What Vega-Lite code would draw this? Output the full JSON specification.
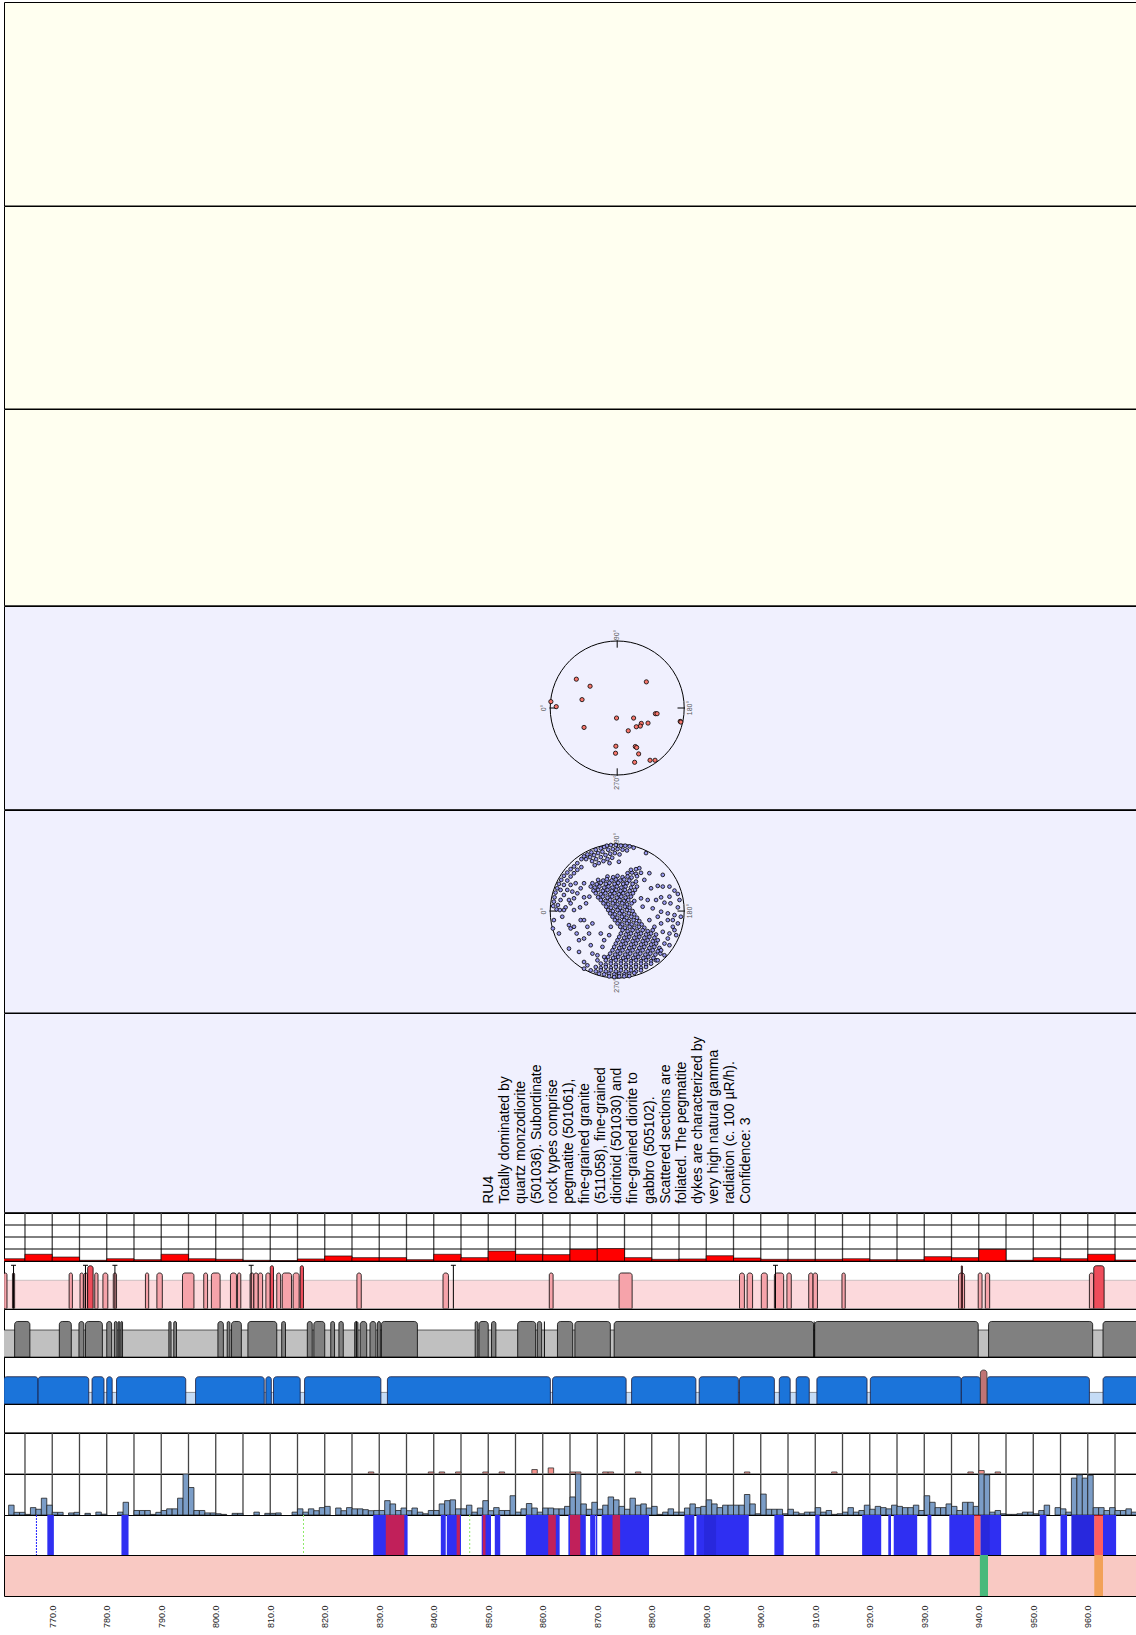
{
"$schema": "https://vega.github.io/schema/vega-lite/v6.json",
"padding": {"left": 3, "top": 1, "right": 0, "bottom": 0},
"spacing": 0,
"bounds": "flush",
"background": "white",
"config": {"view": {"stroke": "black", "strokeWidth": 1}},
"datasets": {
"vgrid": [{"g":765},{"g":770},{"g":775},{"g":780},{"g":785},{"g":790},{"g":795},{"g":800},{"g":805},{"g":810},{"g":815},{"g":820},{"g":825},{"g":830},{"g":835},{"g":840},{"g":845},{"g":850},{"g":855},{"g":860},{"g":865},{"g":870},{"g":875},{"g":880},{"g":885},{"g":890},{"g":895},{"g":900},{"g":905},{"g":910},{"g":915},{"g":920},{"g":925},{"g":930},{"g":935},{"g":940},{"g":945},{"g":950},{"g":955},{"g":960},{"g":965}],
"hgrid": [{"g":1},{"g":2},{"g":3}],
"frac": [{"a":760,"b":765,"v":0.19},{"a":765,"b":770,"v":0.56},{"a":770,"b":775,"v":0.33},{"a":775,"b":780,"v":0.06},{"a":780,"b":785,"v":0.19},{"a":785,"b":790,"v":0.11},{"a":790,"b":795,"v":0.56},{"a":795,"b":800,"v":0.19},{"a":800,"b":805,"v":0.14},{"a":805,"b":810,"v":0.06},{"a":810,"b":815,"v":0.04},{"a":815,"b":820,"v":0.17},{"a":820,"b":825,"v":0.42},{"a":825,"b":830,"v":0.28},{"a":830,"b":835,"v":0.28},{"a":835,"b":840,"v":0.11},{"a":840,"b":845,"v":0.56},{"a":845,"b":850,"v":0.28},{"a":850,"b":855,"v":0.83},{"a":855,"b":860,"v":0.56},{"a":860,"b":865,"v":0.53},{"a":865,"b":870,"v":0.97},{"a":870,"b":875,"v":1.03},{"a":875,"b":880,"v":0.28},{"a":880,"b":885,"v":0.14},{"a":885,"b":890,"v":0.17},{"a":890,"b":895,"v":0.44},{"a":895,"b":900,"v":0.25},{"a":900,"b":905,"v":0.14},{"a":905,"b":910,"v":0.14},{"a":910,"b":915,"v":0.14},{"a":915,"b":920,"v":0.19},{"a":920,"b":925,"v":0.11},{"a":925,"b":930,"v":0.11},{"a":930,"b":935,"v":0.36},{"a":935,"b":940,"v":0.28},{"a":940,"b":945,"v":0.97},{"a":945,"b":950,"v":0.06},{"a":950,"b":955,"v":0.28},{"a":955,"b":960,"v":0.19},{"a":960,"b":965,"v":0.56},{"a":965,"b":970,"v":0.08}],
"pink": [{"a":761,"b":969,"k":"base"},
{"a":761.1,"b":761.7,"k":"p"},{"a":762.7,"b":763.1,"k":"p"},{"a":773.1,"b":773.7,"k":"p"},{"a":775.1,"b":775.7,"k":"p"},{"a":775.8,"b":776.5,"k":"p"},{"a":777.8,"b":778.4,"k":"p"},{"a":779.3,"b":780.2,"k":"p"},{"a":781.2,"b":781.8,"k":"p"},{"a":787.1,"b":787.7,"k":"p"},{"a":789.2,"b":790.2,"k":"p"},{"a":793.9,"b":796.0,"k":"p"},{"a":797.8,"b":798.5,"k":"p"},{"a":799.2,"b":800.8,"k":"p"},{"a":802.7,"b":803.8,"k":"p"},{"a":804.0,"b":804.6,"k":"p"},{"a":806.3,"b":807.0,"k":"p"},{"a":807.0,"b":807.8,"k":"p"},{"a":807.8,"b":808.6,"k":"p"},{"a":809.2,"b":810.0,"k":"p"},{"a":811.2,"b":811.9,"k":"p"},{"a":812.2,"b":813.9,"k":"p"},{"a":814.2,"b":815.3,"k":"p"},{"a":825.9,"b":826.7,"k":"p"},{"a":841.7,"b":842.7,"k":"p"},{"a":861.2,"b":861.9,"k":"p"},{"a":874.0,"b":876.4,"k":"p"},{"a":896.1,"b":897.0,"k":"p"},{"a":897.5,"b":898.5,"k":"p"},{"a":900.1,"b":901.2,"k":"p"},{"a":902.5,"b":904.2,"k":"p"},{"a":904.8,"b":905.6,"k":"p"},{"a":908.8,"b":909.6,"k":"p"},{"a":909.6,"b":910.4,"k":"p"},{"a":914.9,"b":915.5,"k":"p"},{"a":936.3,"b":937.4,"k":"p"},{"a":939.9,"b":940.6,"k":"p"},{"a":941.2,"b":942.0,"k":"p"},{"a":960.3,"b":961.1,"k":"p"},
{"a":776.5,"b":777.5,"k":"r"},{"a":810.0,"b":810.6,"k":"r"},{"a":815.5,"b":816.1,"k":"r"},{"a":936.8,"b":937.0,"k":"r"},{"a":961.1,"b":963.0,"k":"r"}],
"pinkT": [{"d":762.9},{"d":776.1},{"d":781.5},{"d":806.5},{"d":843.6},{"d":902.7}],
"grey": [{"a":761,"b":969,"k":"base"},
{"a":763.1,"b":765.9,"k":"g"},{"a":771.3,"b":773.5,"k":"g"},{"a":774.9,"b":775.8,"k":"g"},{"a":776.1,"b":779.2,"k":"g"},{"a":780.0,"b":780.9,"k":"g"},{"a":781.4,"b":781.9,"k":"g"},{"a":782.1,"b":782.4,"k":"g"},{"a":782.6,"b":782.9,"k":"g"},{"a":791.4,"b":791.8,"k":"g"},{"a":792.3,"b":792.8,"k":"g"},{"a":800.4,"b":801.4,"k":"g"},{"a":802.1,"b":802.6,"k":"g"},{"a":802.9,"b":804.7,"k":"g"},{"a":805.9,"b":811.2,"k":"g"},{"a":812.1,"b":812.8,"k":"g"},{"a":816.8,"b":817.7,"k":"g"},{"a":818.0,"b":820.0,"k":"g"},{"a":821.1,"b":821.8,"k":"g"},{"a":822.6,"b":823.4,"k":"g"},{"a":825.5,"b":826.1,"k":"g"},{"a":826.5,"b":827.7,"k":"g"},{"a":828.3,"b":829.4,"k":"g"},{"a":829.7,"b":830.2,"k":"g"},{"a":830.4,"b":837.0,"k":"g"},{"a":847.6,"b":848.1,"k":"g"},{"a":848.3,"b":850.0,"k":"g"},{"a":850.6,"b":851.4,"k":"g"},{"a":855.4,"b":858.7,"k":"g"},{"a":859.0,"b":859.8,"k":"g"},{"a":862.7,"b":865.5,"k":"g"},{"a":865.9,"b":872.4,"k":"g"},{"a":873.1,"b":909.7,"k":"g"},{"a":909.9,"b":939.9,"k":"g"},{"a":941.8,"b":960.9,"k":"g"},{"a":962.8,"b":969.5,"k":"g"}],
"greyT": [{"d":860.3},{"d":909.8},{"d":825.8}],
"blue": [{"a":761,"b":969,"k":"base"},
{"a":761.1,"b":767.4,"k":"b"},{"a":767.4,"b":776.7,"k":"b"},{"a":777.3,"b":779.5,"k":"b"},{"a":780.0,"b":781.0,"k":"b"},{"a":781.8,"b":794.5,"k":"b"},{"a":796.3,"b":808.9,"k":"b"},{"a":809.2,"b":810.2,"k":"b"},{"a":810.6,"b":815.5,"k":"b"},{"a":816.3,"b":830.3,"k":"b"},{"a":831.5,"b":861.4,"k":"b"},{"a":861.8,"b":875.3,"k":"b"},{"a":876.3,"b":888.1,"k":"b"},{"a":888.7,"b":895.9,"k":"b"},{"a":896.1,"b":902.5,"k":"b"},{"a":903.4,"b":905.4,"k":"b"},{"a":906.5,"b":908.9,"k":"b"},{"a":910.3,"b":919.5,"k":"b"},{"a":920.1,"b":936.8,"k":"b"},{"a":936.8,"b":940.3,"k":"b"},{"a":941.5,"b":960.3,"k":"b"},{"a":962.8,"b":969.5,"k":"b"},
{"a":940.3,"b":941.5,"k":"x"}],
"histU": [{"a":828,"b":829,"v":0.4},{"a":839,"b":840,"v":0.4},{"a":841,"b":842,"v":0.4},{"a":844,"b":845,"v":0.4},{"a":849,"b":850,"v":0.4},{"a":852,"b":853,"v":0.4},{"a":858,"b":859,"v":1.0},{"a":861,"b":862,"v":1.4},{"a":865,"b":866,"v":0.4},{"a":866,"b":867,"v":0.4},{"a":871,"b":872,"v":0.4},{"a":872,"b":873,"v":0.4},{"a":877,"b":878,"v":0.4},{"a":897,"b":898,"v":0.4},{"a":913,"b":914,"v":0.4},{"a":938,"b":939,"v":0.4},{"a":940,"b":941,"v":0.75},{"a":943,"b":944,"v":0.4}],
"histL": [{"a":762,"b":763,"v":2.4},{"a":763,"b":764,"v":0.65},{"a":764,"b":765,"v":0.65},{"a":765,"b":766,"v":0.15},{"a":766,"b":767,"v":1.8},{"a":767,"b":768,"v":1.4},{"a":768,"b":769,"v":4.1},{"a":769,"b":770,"v":2.4},{"a":770,"b":771,"v":0.65},{"a":771,"b":772,"v":0.65},{"a":773,"b":774,"v":0.5},{"a":774,"b":775,"v":0.65},{"a":776,"b":777,"v":0.4},{"a":778,"b":779,"v":0.7},{"a":779,"b":780,"v":0.2},{"a":782,"b":783,"v":0.7},{"a":783,"b":784,"v":3.1},{"a":785,"b":786,"v":1.1},{"a":786,"b":787,"v":1.1},{"a":787,"b":788,"v":1.1},{"a":788,"b":789,"v":0.15},{"a":789,"b":790,"v":0.65},{"a":790,"b":791,"v":1.1},{"a":791,"b":792,"v":1.5},{"a":792,"b":793,"v":1.5},{"a":793,"b":794,"v":4.1},{"a":794,"b":795,"v":10},{"a":795,"b":796,"v":6.7},{"a":796,"b":797,"v":1.1},{"a":797,"b":798,"v":1.1},{"a":798,"b":799,"v":0.5},{"a":799,"b":800,"v":0.5},{"a":800,"b":801,"v":0.3},{"a":801,"b":802,"v":0.15},{"a":803,"b":804,"v":0.4},{"a":804,"b":805,"v":0.4},{"a":807,"b":808,"v":0.7},{"a":809,"b":810,"v":0.4},{"a":810,"b":811,"v":0.4},{"a":811,"b":812,"v":0.5},{"a":814,"b":815,"v":0.7},{"a":815,"b":816,"v":1.5},{"a":816,"b":817,"v":0.7},{"a":817,"b":818,"v":1.5},{"a":818,"b":819,"v":1.05},{"a":819,"b":820,"v":1.8},{"a":820,"b":821,"v":2.1},{"a":822,"b":823,"v":1.7},{"a":823,"b":824,"v":1.05},{"a":824,"b":825,"v":1.8},{"a":825,"b":826,"v":1.5},{"a":826,"b":827,"v":1.5},{"a":827,"b":828,"v":1.3},{"a":828,"b":829,"v":1.05},{"a":829,"b":830,"v":1.1},{"a":830,"b":831,"v":1.1},{"a":831,"b":832,"v":3.5},{"a":832,"b":833,"v":2.7},{"a":833,"b":834,"v":1.1},{"a":834,"b":835,"v":1.7},{"a":835,"b":836,"v":1.05},{"a":836,"b":837,"v":1.7},{"a":837,"b":838,"v":0.7},{"a":838,"b":839,"v":0.3},{"a":839,"b":840,"v":1.1},{"a":840,"b":841,"v":1.1},{"a":841,"b":842,"v":2.7},{"a":842,"b":843,"v":3.5},{"a":843,"b":844,"v":3.7},{"a":844,"b":845,"v":1.5},{"a":845,"b":846,"v":1.5},{"a":846,"b":847,"v":2.4},{"a":847,"b":848,"v":0.7},{"a":848,"b":849,"v":1.7},{"a":849,"b":850,"v":3.5},{"a":850,"b":851,"v":1.05},{"a":851,"b":852,"v":1.8},{"a":852,"b":853,"v":1.1},{"a":853,"b":854,"v":1.1},{"a":854,"b":855,"v":4.7},{"a":855,"b":856,"v":0.7},{"a":856,"b":857,"v":1.5},{"a":857,"b":858,"v":2.8},{"a":858,"b":859,"v":1.7},{"a":859,"b":860,"v":0.7},{"a":860,"b":861,"v":1.7},{"a":861,"b":862,"v":1.7},{"a":862,"b":863,"v":1.5},{"a":863,"b":864,"v":1.5},{"a":864,"b":865,"v":2.1},{"a":865,"b":866,"v":4.4},{"a":866,"b":867,"v":10},{"a":867,"b":868,"v":2.7},{"a":868,"b":869,"v":1.4},{"a":869,"b":870,"v":3.1},{"a":870,"b":871,"v":1.4},{"a":871,"b":872,"v":2.4},{"a":872,"b":873,"v":4.4},{"a":873,"b":874,"v":3.7},{"a":874,"b":875,"v":2.1},{"a":875,"b":876,"v":1.4},{"a":876,"b":877,"v":4.1},{"a":877,"b":878,"v":2.4},{"a":878,"b":879,"v":2.7},{"a":879,"b":880,"v":1.7},{"a":880,"b":881,"v":2.1},{"a":881,"b":882,"v":0.15},{"a":882,"b":883,"v":0.7},{"a":883,"b":884,"v":1.5},{"a":884,"b":885,"v":0.7},{"a":885,"b":886,"v":0.7},{"a":886,"b":887,"v":1.7},{"a":887,"b":888,"v":2.7},{"a":888,"b":889,"v":1.8},{"a":889,"b":890,"v":2.1},{"a":890,"b":891,"v":3.7},{"a":891,"b":892,"v":2.7},{"a":892,"b":893,"v":1.8},{"a":893,"b":894,"v":2.4},{"a":894,"b":895,"v":2.4},{"a":895,"b":896,"v":2.4},{"a":896,"b":897,"v":2.4},{"a":897,"b":898,"v":5.0},{"a":898,"b":899,"v":2.7},{"a":899,"b":900,"v":0.3},{"a":900,"b":901,"v":5.1},{"a":901,"b":902,"v":1.4},{"a":902,"b":903,"v":1.4},{"a":903,"b":904,"v":1.4},{"a":904,"b":905,"v":0.3},{"a":905,"b":906,"v":1.4},{"a":906,"b":907,"v":0.7},{"a":907,"b":908,"v":0.3},{"a":908,"b":909,"v":0.7},{"a":909,"b":910,"v":0.7},{"a":910,"b":911,"v":1.8},{"a":911,"b":912,"v":0.7},{"a":912,"b":913,"v":1.1},{"a":913,"b":914,"v":0.15},{"a":914,"b":915,"v":0.3},{"a":915,"b":916,"v":0.7},{"a":916,"b":917,"v":1.8},{"a":917,"b":918,"v":0.7},{"a":918,"b":919,"v":1.1},{"a":919,"b":920,"v":2.4},{"a":920,"b":921,"v":1.4},{"a":921,"b":922,"v":2.1},{"a":922,"b":923,"v":1.8},{"a":923,"b":924,"v":1.5},{"a":924,"b":925,"v":2.4},{"a":925,"b":926,"v":2.1},{"a":926,"b":927,"v":1.8},{"a":927,"b":928,"v":1.8},{"a":928,"b":929,"v":2.4},{"a":929,"b":930,"v":1.1},{"a":930,"b":931,"v":4.7},{"a":931,"b":932,"v":3.1},{"a":932,"b":933,"v":1.8},{"a":933,"b":934,"v":1.8},{"a":934,"b":935,"v":2.7},{"a":935,"b":936,"v":2.1},{"a":936,"b":937,"v":1.1},{"a":937,"b":938,"v":3.1},{"a":938,"b":939,"v":3.1},{"a":939,"b":940,"v":2.1},{"a":940,"b":941,"v":10},{"a":941,"b":942,"v":9.8},{"a":942,"b":943,"v":0.7},{"a":943,"b":944,"v":1.1},{"a":944,"b":945,"v":0.3},{"a":945,"b":946,"v":0.15},{"a":946,"b":947,"v":0.15},{"a":947,"b":948,"v":0.3},{"a":948,"b":949,"v":0.7},{"a":949,"b":950,"v":0.7},{"a":950,"b":951,"v":0.3},{"a":951,"b":952,"v":1.1},{"a":952,"b":953,"v":2.4},{"a":954,"b":955,"v":1.8},{"a":955,"b":956,"v":1.5},{"a":956,"b":957,"v":0.7},{"a":957,"b":958,"v":9.0},{"a":958,"b":959,"v":9.8},{"a":959,"b":960,"v":9.0},{"a":960,"b":961,"v":9.7},{"a":961,"b":962,"v":1.8},{"a":962,"b":963,"v":1.8},{"a":963,"b":964,"v":1.1},{"a":964,"b":965,"v":1.8},{"a":965,"b":966,"v":1.1},{"a":966,"b":967,"v":1.1},{"a":967,"b":968,"v":1.5},{"a":968,"b":969,"v":0.7}],
"dots": [{"a":769.1,"b":770.3,"k":"blue"},{"a":782.7,"b":784.0,"k":"blue"},{"a":828.9,"b":835.2,"k":"blue"},{"a":841.3,"b":842.2,"k":"blue"},{"a":842.4,"b":845.0,"k":"blue"},{"a":848.8,"b":850.5,"k":"blue"},{"a":851.2,"b":852.2,"k":"blue"},{"a":856.9,"b":863.1,"k":"blue"},{"a":864.7,"b":867.9,"k":"blue"},{"a":868.7,"b":869.6,"k":"blue"},{"a":869.7,"b":870.0,"k":"blue"},{"a":870.8,"b":879.5,"k":"blue"},{"a":886.0,"b":887.8,"k":"blue"},{"a":888.2,"b":897.8,"k":"blue"},{"a":902.5,"b":904.2,"k":"blue"},{"a":910.0,"b":910.8,"k":"blue"},{"a":918.6,"b":922.1,"k":"blue"},{"a":923.4,"b":923.9,"k":"blue"},{"a":924.4,"b":928.7,"k":"blue"},{"a":930.6,"b":931.3,"k":"blue"},{"a":934.6,"b":939.2,"k":"blue"},{"a":940.3,"b":944.1,"k":"blue"},{"a":951.2,"b":952.4,"k":"blue"},{"a":955.0,"b":956.2,"k":"blue"},{"a":957.0,"b":961.2,"k":"blue"},{"a":962.8,"b":965.2,"k":"blue"},
{"a":831.2,"b":834.6,"k":"red"},{"a":844.2,"b":844.8,"k":"red"},{"a":849.0,"b":849.5,"k":"red"},{"a":861.0,"b":862.4,"k":"red"},{"a":865.0,"b":866.9,"k":"red"},{"a":872.8,"b":874.2,"k":"red"},{"a":939.2,"b":940.3,"k":"red"},{"a":961.2,"b":962.8,"k":"red"},
{"a":889.6,"b":891.8,"k":"dark"},{"a":957.0,"b":961.2,"k":"dark"},{"a":940.3,"b":942.0,"k":"dark"}],
"dotlines": [{"d":767.1,"k":"blue"},{"d":816.1,"k":"green"},{"d":846.6,"k":"green"}],
"salmon": [{"a":940.2,"b":941.7,"k":"green"},{"a":961.2,"b":962.8,"k":"orange"}],
"ticks": [{"e":0,"n":90,"e2":0,"n2":101},{"e":-101,"n":0,"e2":-90,"n2":0},{"e":90,"n":0,"e2":101,"n2":0},{"e":0,"n":-90,"e2":0,"n2":-101}],
"labs": [{"e":0,"n":109,"t":"90°"},{"e":-109,"n":0,"t":"0°"},{"e":108,"n":0,"t":"180°"},{"e":0,"n":-111,"t":"270°"}],
"s1": [{"e":-61,"n":43},{"e":-40.5,"n":32.5},{"e":-52.5,"n":12.5},{"e":-99,"n":9.5},{"e":-91,"n":2},{"e":43.5,"n":39},{"e":-1,"n":-15},{"e":24.5,"n":-15},{"e":-49.5,"n":-29},{"e":36,"n":-23},{"e":34.5,"n":-27},{"e":28.5,"n":-28},{"e":46,"n":-22.5},{"e":16.5,"n":-34},{"e":57,"n":-8.5},{"e":59.5,"n":-8.5},{"e":94,"n":-20},{"e":95,"n":-21},{"e":-2,"n":-57},{"e":-2.5,"n":-67.5},{"e":27,"n":-57.5},{"e":29,"n":-59},{"e":32,"n":-68.5},{"e":26,"n":-81},{"e":49,"n":-78},{"e":56.5,"n":-78}],
"s2": [
{"e":-15.5,"n":97.5},{"e":-9.5,"n":98.5},{"e":-2,"n":98.5},{"e":5.5,"n":97.5},{"e":12,"n":97.5},{"e":18.5,"n":96.5},{"e":24.5,"n":94.5},{"e":-19.5,"n":95.5},{"e":-24.5,"n":93.5},{"e":-32,"n":91.5},{"e":-38.5,"n":87.5},{"e":-44.5,"n":84.5},{"e":-49.5,"n":81.5},{"e":-53.5,"n":77.5},{"e":-13.5,"n":91.5},{"e":-6.5,"n":92.5},{"e":0.5,"n":92.5},{"e":8,"n":91.5},{"e":14.5,"n":90.5},{"e":-22,"n":88.5},{"e":-28.5,"n":86.5},{"e":-34.5,"n":83.5},{"e":-40.5,"n":80.5},{"e":-46.5,"n":77.5},{"e":-17.5,"n":83.5},{"e":-10.5,"n":85.5},{"e":-3.5,"n":86.5},{"e":3.5,"n":84.5},{"e":-24.5,"n":80.5},{"e":-31.5,"n":77.5},{"e":-37.5,"n":74.5},{"e":-14.5,"n":77.5},{"e":-7.5,"n":79.5},{"e":-20.5,"n":74.5},{"e":-27.5,"n":71.5},{"e":-33.5,"n":68.5},{"e":-11.5,"n":71.5},{"e":2.5,"n":73.5},{"e":43,"n":86.5},
{"e":-59.5,"n":71.5},{"e":-64.5,"n":66.5},{"e":-69.5,"n":62.5},{"e":-74.5,"n":57.5},{"e":-79.5,"n":52.5},{"e":-83.5,"n":46.5},{"e":-87,"n":40.5},{"e":-89.5,"n":34},{"e":-92,"n":27.5},{"e":-93.5,"n":20.5},{"e":-94.5,"n":14},{"e":-95.5,"n":7.5},{"e":-84.5,"n":31.5},{"e":-79.5,"n":39},{"e":-74.5,"n":45.5},{"e":-69.5,"n":51.5},{"e":-64.5,"n":56.5},{"e":-59.5,"n":61.5},{"e":-53.5,"n":65.5},{"e":-69.5,"n":39},{"e":-74.5,"n":31.5},{"e":-79.5,"n":24},{"e":-84.5,"n":16.5},{"e":-88.5,"n":9},{"e":-90.5,"n":2.5},{"e":-85.5,"n":1.5},{"e":-77,"n":5.5},{"e":-69.5,"n":11.5},{"e":-64.5,"n":19},{"e":-59.5,"n":26.5},{"e":-54.5,"n":34},{"e":-49.5,"n":41.5},{"e":-62,"n":41.5},{"e":-67,"n":29},{"e":-72,"n":16.5},{"e":-94.5,"n":-13.5},{"e":-96,"n":-26},{"e":-87,"n":-33.5},{"e":-79.5,"n":1.5},{"e":-64.5,"n":1.5},{"e":-55.5,"n":5.5},{"e":-46.5,"n":11.5},{"e":-41.5,"n":21.5},{"e":-49.5,"n":20.5},{"e":-82,"n":-8.5},{"e":-72,"n":-21},{"e":-69.5,"n":-26},{"e":-64.5,"n":-23.5},{"e":-60.5,"n":-33.5},{"e":-54.5,"n":-13.5},{"e":-49.5,"n":-13.5},{"e":-44.5,"n":-23.5},{"e":-42,"n":-33.5},{"e":-37,"n":-18.5},{"e":-49.5,"n":-41},{"e":-57,"n":-43.5},
{"e":15.5,"n":56.5},{"e":22,"n":57.5},{"e":28,"n":55.5},{"e":35.5,"n":57},
{"e":-14.5,"n":51.5},{"e":-6,"n":50.5},{"e":0.5,"n":52.5},{"e":8,"n":50.5},{"e":15.5,"n":51.5},{"e":21.5,"n":50},{"e":29.5,"n":52},
{"e":-28.5,"n":46.5},{"e":-21,"n":45.5},{"e":-15.5,"n":47.5},{"e":-8.5,"n":45.5},{"e":-2,"n":47},{"e":4.5,"n":45.5},{"e":10.5,"n":47},{"e":18,"n":45.5},
{"e":-37,"n":41.5},{"e":-30.5,"n":40},{"e":-24.5,"n":42},{"e":-17,"n":40.5},{"e":-11.5,"n":42},{"e":-4,"n":40.5},{"e":1.5,"n":42},{"e":9,"n":40.5},{"e":14.5,"n":41.5},{"e":23,"n":40.5},
{"e":-39.5,"n":36.5},{"e":-33.5,"n":35},{"e":-26.5,"n":36.5},{"e":-19.5,"n":35},{"e":-13,"n":36.5},{"e":-7,"n":35},{"e":-0.5,"n":36.5},{"e":6,"n":35},{"e":12.5,"n":36.5},{"e":20.5,"n":35},{"e":29.5,"n":36.5},
{"e":-35.5,"n":30.5},{"e":-28.5,"n":31.5},{"e":-21.5,"n":30},{"e":-14.5,"n":31.5},{"e":-8,"n":30},{"e":-1.5,"n":31.5},{"e":5,"n":30},{"e":11.5,"n":31.5},{"e":18.5,"n":30},{"e":26.5,"n":31.5},
{"e":-32,"n":26.5},{"e":-24.5,"n":25},{"e":-17.5,"n":26.5},{"e":-10.5,"n":25},{"e":-4,"n":26.5},{"e":2.5,"n":25},{"e":9,"n":26.5},{"e":15.5,"n":25},{"e":23.5,"n":26.5},
{"e":-28.5,"n":20.5},{"e":-21.5,"n":21.5},{"e":-14.5,"n":20},{"e":-7.5,"n":21.5},{"e":-0.5,"n":20},{"e":6,"n":21.5},{"e":12.5,"n":20},{"e":20.5,"n":21.5},
{"e":-24.5,"n":16.5},{"e":-17.5,"n":15},{"e":-10.5,"n":16.5},{"e":-3.5,"n":15},{"e":3.5,"n":16.5},{"e":10,"n":15},{"e":16.5,"n":16.5},{"e":25.5,"n":15},
{"e":-20.5,"n":11.5},{"e":-13.5,"n":10},{"e":-6.5,"n":11.5},{"e":0.5,"n":10},{"e":7.5,"n":11.5},{"e":14.5,"n":10},{"e":21.5,"n":11.5},
{"e":-16.5,"n":6.5},{"e":-9.5,"n":5},{"e":-2.5,"n":6.5},{"e":4.5,"n":5},{"e":11.5,"n":6.5},{"e":18.5,"n":5},
{"e":-13.5,"n":1.5},{"e":-6.5,"n":0},{"e":0.5,"n":1.5},{"e":7.5,"n":0},{"e":14.5,"n":1.5},{"e":23,"n":0},
{"e":-10.5,"n":-3.5},{"e":-3.5,"n":-5},{"e":3.5,"n":-3.5},{"e":10.5,"n":-5},{"e":17.5,"n":-3.5},{"e":25.5,"n":-5},
{"e":-7,"n":-8.5},{"e":0,"n":-10},{"e":7,"n":-8.5},{"e":14,"n":-10},{"e":21,"n":-8.5},{"e":29.5,"n":-10},
{"e":-3.5,"n":-13.5},{"e":3.5,"n":-15},{"e":10.5,"n":-13.5},{"e":17.5,"n":-15},{"e":24.5,"n":-13.5},{"e":33,"n":-15},
{"e":0.5,"n":-18.5},{"e":7.5,"n":-20},{"e":14.5,"n":-18.5},{"e":21.5,"n":-20},{"e":28.5,"n":-18.5},{"e":36.5,"n":-20},
{"e":4.5,"n":-23.5},{"e":11.5,"n":-25},{"e":18.5,"n":-23.5},{"e":25.5,"n":-25},{"e":32.5,"n":-23.5},{"e":40.5,"n":-25},
{"e":8,"n":-28.5},{"e":15.5,"n":-30},{"e":23,"n":-28.5},{"e":30.5,"n":-30},{"e":38,"n":-28.5},{"e":45.5,"n":-30},{"e":53,"n":-28.5},
{"e":5.5,"n":-33.5},{"e":13,"n":-35},{"e":20.5,"n":-33.5},{"e":28,"n":-35},{"e":35.5,"n":-33.5},{"e":43,"n":-35},{"e":50.5,"n":-33.5},{"e":58,"n":-35},
{"e":3,"n":-38.5},{"e":10.5,"n":-40},{"e":18,"n":-38.5},{"e":25.5,"n":-40},{"e":33,"n":-38.5},{"e":40.5,"n":-40},{"e":48,"n":-38.5},{"e":55.5,"n":-40},
{"e":0.5,"n":-43.5},{"e":8,"n":-45},{"e":15.5,"n":-43.5},{"e":23,"n":-45},{"e":30.5,"n":-43.5},{"e":38,"n":-45},{"e":45.5,"n":-43.5},{"e":53,"n":-45},{"e":60.5,"n":-43.5},
{"e":-2,"n":-48.5},{"e":5.5,"n":-50},{"e":13,"n":-48.5},{"e":20.5,"n":-50},{"e":28,"n":-48.5},{"e":35.5,"n":-50},{"e":43,"n":-48.5},{"e":50.5,"n":-50},{"e":58,"n":-48.5},
{"e":-4.5,"n":-53.5},{"e":3,"n":-55},{"e":10.5,"n":-53.5},{"e":18,"n":-55},{"e":25.5,"n":-53.5},{"e":33,"n":-55},{"e":40.5,"n":-53.5},{"e":48,"n":-55},{"e":55.5,"n":-53.5},{"e":63,"n":-55},
{"e":-7,"n":-58.5},{"e":0.5,"n":-60},{"e":8,"n":-58.5},{"e":15.5,"n":-60},{"e":23,"n":-58.5},{"e":30.5,"n":-60},{"e":38,"n":-58.5},{"e":45.5,"n":-60},{"e":53,"n":-58.5},{"e":60.5,"n":-60},
{"e":-10.5,"n":-63.5},{"e":-3,"n":-65},{"e":4.5,"n":-63.5},{"e":12,"n":-65},{"e":19.5,"n":-63.5},{"e":27,"n":-65},{"e":34.5,"n":-63.5},{"e":42,"n":-65},{"e":49.5,"n":-63.5},{"e":57,"n":-65},{"e":64.5,"n":-63.5},
{"e":-13.5,"n":-68.5},{"e":-6,"n":-70},{"e":1.5,"n":-68.5},{"e":9,"n":-70},{"e":16.5,"n":-68.5},{"e":24,"n":-70},{"e":31.5,"n":-68.5},{"e":39,"n":-70},{"e":46.5,"n":-68.5},{"e":54,"n":-70},
{"e":-17,"n":-73.5},{"e":-9.5,"n":-75},{"e":-2,"n":-73.5},{"e":5.5,"n":-75},{"e":13,"n":-73.5},{"e":20.5,"n":-75},{"e":28,"n":-73.5},{"e":35.5,"n":-75},{"e":43,"n":-73.5},{"e":50.5,"n":-75},{"e":58,"n":-73.5},
{"e":-24.5,"n":-78.5},{"e":-17,"n":-80},{"e":-9.5,"n":-78.5},{"e":-2,"n":-80},{"e":5.5,"n":-78.5},{"e":13,"n":-80},{"e":20.5,"n":-78.5},{"e":28,"n":-80},{"e":35.5,"n":-78.5},{"e":43,"n":-80},{"e":50.5,"n":-78.5},
{"e":-32,"n":-83.5},{"e":-24.5,"n":-85},{"e":-17,"n":-83.5},{"e":-9.5,"n":-85},{"e":-2,"n":-83.5},{"e":5.5,"n":-85},{"e":13,"n":-83.5},{"e":20.5,"n":-85},{"e":28,"n":-83.5},{"e":35.5,"n":-85},{"e":43,"n":-83.5},
{"e":-39.5,"n":-88.5},{"e":-32,"n":-90},{"e":-24.5,"n":-88.5},{"e":-17,"n":-90},{"e":-9.5,"n":-88.5},{"e":-2,"n":-90},{"e":5.5,"n":-88.5},{"e":13,"n":-90},{"e":20.5,"n":-88.5},{"e":28,"n":-90},{"e":35.5,"n":-88.5},
{"e":-27,"n":-93.5},{"e":-19.5,"n":-94.5},{"e":-12,"n":-93.5},{"e":-4.5,"n":-94.5},{"e":3,"n":-93.5},{"e":10.5,"n":-94.5},{"e":18,"n":-93.5},{"e":25.5,"n":-92.5},
{"e":-12,"n":-97.5},{"e":-4.5,"n":-98.5},{"e":3,"n":-97.5},{"e":10.5,"n":-97.5},{"e":18,"n":-97},
{"e":-72,"n":-56},{"e":-57,"n":-61},{"e":-49.5,"n":-76},{"e":-44.5,"n":-81},{"e":-49.5,"n":-86},{"e":-37,"n":-63.5},{"e":-29.5,"n":-66},{"e":-22,"n":-53.5},{"e":-19.5,"n":-43.5},{"e":-24.5,"n":-33.5},{"e":-12,"n":-36},{"e":-9.5,"n":-23.5},{"e":-39.5,"n":-51},{"e":-29.5,"n":-73.5},{"e":-19.5,"n":-68.5},
{"e":20.5,"n":61.5},{"e":28,"n":62.5},{"e":33,"n":64},{"e":48,"n":56.5},{"e":68,"n":54},{"e":40.5,"n":46.5},{"e":28,"n":44},{"e":50.5,"n":34},{"e":60.5,"n":37.5},{"e":68,"n":36.5},{"e":78,"n":36.5},{"e":85.5,"n":30.5},{"e":90.5,"n":25.5},{"e":65.5,"n":20.5},{"e":78,"n":21.5},{"e":93,"n":16.5},{"e":90.5,"n":5.5},{"e":79.5,"n":11.5},{"e":70.5,"n":12.5},{"e":58,"n":16.5},{"e":45.5,"n":16.5},{"e":35.5,"n":19},{"e":38,"n":6.5},{"e":53,"n":4},{"e":65.5,"n":-1},{"e":75.5,"n":-3.5},{"e":85.5,"n":-6},{"e":95,"n":-8.5},{"e":90.5,"n":-18.5},{"e":83,"n":-23.5},{"e":75.5,"n":-13.5},{"e":65.5,"n":-18.5},{"e":60.5,"n":-8.5},{"e":48,"n":-13.5},{"e":55.5,"n":-23.5},{"e":68,"n":-31},{"e":78,"n":-33.5},{"e":88,"n":-36},{"e":75.5,"n":-41},{"e":70.5,"n":-48.5},{"e":78,"n":-51},{"e":65.5,"n":-58.5},{"e":70.5,"n":-66},{"e":60.5,"n":-73.5},{"e":85.5,"n":-28.5},{"e":83,"n":-13.5}
]
},
"vconcat": [
{"width":1132,"height":203.5,"view":{"fill":"#fffff0","stroke":"black","strokeWidth":1},"data":{"values":[{}]},"mark":{"type":"point","opacity":0},"encoding":{}},
{"width":1132,"height":202.5,"view":{"fill":"#fffff0","stroke":"black","strokeWidth":1},"data":{"values":[{}]},"mark":{"type":"point","opacity":0},"encoding":{}},
{"width":1132,"height":196.3,"view":{"fill":"#fffff0","stroke":"black","strokeWidth":1},"data":{"values":[{}]},"mark":{"type":"point","opacity":0},"encoding":{}},
{"width":1132,"height":203.2,"view":{"fill":"#f0f0fe","stroke":"black","strokeWidth":1},
 "layer":[
  {"data":{"values":[{"e":0,"n":0}]},"mark":{"type":"point","shape":"circle","size":17956,"filled":false,"stroke":"black","strokeWidth":1,"opacity":1},
   "encoding":{"x":{"field":"e","type":"quantitative","scale":{"domain":[-915.2,774.3],"nice":false,"zero":false},"axis":null},"y":{"field":"n","type":"quantitative","scale":{"domain":[-151.0,152.2],"nice":false,"zero":false},"axis":null}}},
  {"data":{"name":"ticks"},"mark":{"type":"rule","stroke":"black","strokeWidth":1},
   "encoding":{"x":{"field":"e","type":"quantitative"},"y":{"field":"n","type":"quantitative"},"x2":{"field":"e2"},"y2":{"field":"n2"}}},
  {"data":{"name":"labs"},"mark":{"type":"text","angle":270,"align":"center","baseline":"middle","fontSize":7,"font":"Liberation Sans","fill":"#555"},
   "encoding":{"x":{"field":"e","type":"quantitative"},"y":{"field":"n","type":"quantitative"},"text":{"field":"t"}}},
  {"data":{"name":"s1"},"mark":{"type":"point","shape":"circle","filled":true,"size":18,"fill":"#f7766c","stroke":"black","strokeWidth":0.8,"opacity":1},
   "encoding":{"x":{"field":"e","type":"quantitative"},"y":{"field":"n","type":"quantitative"}}}
 ]},
{"width":1132,"height":202.5,"view":{"fill":"#f0f0fe","stroke":"black","strokeWidth":1},
 "layer":[
  {"data":{"values":[{"e":0,"n":0}]},"mark":{"type":"point","shape":"circle","size":17956,"filled":false,"stroke":"black","strokeWidth":1,"opacity":1},
   "encoding":{"x":{"field":"e","type":"quantitative","scale":{"domain":[-915.2,774.3],"nice":false,"zero":false},"axis":null},"y":{"field":"n","type":"quantitative","scale":{"domain":[-151.4,150.8],"nice":false,"zero":false},"axis":null}}},
  {"data":{"name":"ticks"},"mark":{"type":"rule","stroke":"black","strokeWidth":1},
   "encoding":{"x":{"field":"e","type":"quantitative"},"y":{"field":"n","type":"quantitative"},"x2":{"field":"e2"},"y2":{"field":"n2"}}},
  {"data":{"name":"s2"},"mark":{"type":"point","shape":"circle","filled":true,"size":14,"fill":"#9a9af0","stroke":"black","strokeWidth":0.8,"opacity":1},
   "encoding":{"x":{"field":"e","type":"quantitative"},"y":{"field":"n","type":"quantitative"}}},
  {"data":{"name":"labs"},"mark":{"type":"text","angle":270,"align":"center","baseline":"middle","fontSize":7,"font":"Liberation Sans","fill":"#555"},
   "encoding":{"x":{"field":"e","type":"quantitative"},"y":{"field":"n","type":"quantitative"},"text":{"field":"t"}}}
 ]},
{"width":1132,"height":199.2,"view":{"fill":"#f0f0fe","stroke":"black","strokeWidth":1},
 "data":{"values":[{"d":850.8,"t":"RU4\nTotally dominated by\nquartz monzodiorite\n(501036). Subordinate\nrock types comprise\npegmatite (501061),\nfine-grained granite\n(511058), fine-grained\ndioritoid (501030) and\nfine-grained diorite to\ngabbro (505102).\nScattered sections are\nfoliated. The pegmatite\ndykes are characterized by\nvery high natural gamma\nradiation (c. 100 µR/h).\nConfidence: 3"}]},
 "mark":{"type":"text","angle":270,"align":"left","baseline":"alphabetic","fontSize":14,"lineHeight":16.1,"lineBreak":"\n","font":"Liberation Sans","fill":"black"},
 "encoding":{"x":{"field":"d","type":"quantitative","scale":{"domain":[761.15,968.85],"nice":false,"zero":false},"axis":null},
  "y":{"datum":0.042,"type":"quantitative","scale":{"domain":[0,1],"nice":false,"zero":false},"axis":null},
  "text":{"field":"t"}}},
{"width":1132,"height":48,"view":{"stroke":"black","strokeWidth":1},
 "layer":[
  {"data":{"name":"vgrid"},"mark":{"type":"rule","stroke":"#444","strokeWidth":1.3},
   "encoding":{"x":{"field":"g","type":"quantitative","scale":{"domain":[761.15,968.85],"nice":false,"zero":false},"axis":null}}},
  {"data":{"name":"hgrid"},"mark":{"type":"rule","stroke":"black","strokeWidth":1},
   "encoding":{"y":{"field":"g","type":"quantitative","scale":{"domain":[0,4],"nice":false,"zero":false},"axis":null}}},
  {"data":{"name":"frac"},"mark":{"type":"rect","fill":"#ff0000","stroke":"black","strokeWidth":0.6,"clip":true},
   "encoding":{"x":{"field":"a","type":"quantitative"},"x2":{"field":"b"},"y":{"field":"v","type":"quantitative"},"y2":{"datum":0}}}
 ]},
{"width":1132,"height":47.6,"view":{"stroke":"black","strokeWidth":1},"data":{"name":"pink"},
 "layer":[
  {"transform":[{"filter":"datum.k == 'base'"}],"mark":{"type":"rect","fill":"#fcd9dc","stroke":"#999","strokeWidth":0.5,"clip":true},
   "encoding":{"x":{"field":"a","type":"quantitative","scale":{"domain":[761.15,968.85],"nice":false,"zero":false},"axis":null},"x2":{"field":"b"},
    "y":{"datum":0,"type":"quantitative","scale":{"domain":[0,1],"nice":false,"zero":false},"axis":null},"y2":{"datum":0.595}}},
  {"transform":[{"filter":"datum.k == 'p'"}],"mark":{"type":"rect","fill":"#f6a3aa","stroke":"black","strokeWidth":0.8,"cornerRadiusTopLeft":2.5,"cornerRadiusTopRight":2.5,"clip":true},
   "encoding":{"x":{"field":"a","type":"quantitative"},"x2":{"field":"b"},"y":{"datum":0,"type":"quantitative"},"y2":{"datum":0.748}}},
  {"transform":[{"filter":"datum.k == 'r'"}],"mark":{"type":"rect","fill":"#ee4d5b","stroke":"black","strokeWidth":0.8,"cornerRadiusTopLeft":2.5,"cornerRadiusTopRight":2.5,"clip":true},
   "encoding":{"x":{"field":"a","type":"quantitative"},"x2":{"field":"b"},"y":{"datum":0,"type":"quantitative"},"y2":{"datum":0.9}}},
  {"data":{"name":"pinkT"},"mark":{"type":"rule","stroke":"black","strokeWidth":1},
   "encoding":{"x":{"field":"d","type":"quantitative"},"y":{"datum":0,"type":"quantitative"},"y2":{"datum":0.91}}},
  {"data":{"name":"pinkT"},"mark":{"type":"tick","orient":"horizontal","size":5,"thickness":1,"color":"black","opacity":1},
   "encoding":{"x":{"field":"d","type":"quantitative"},"y":{"datum":0.91,"type":"quantitative"}}}
 ]},
{"width":1132,"height":48,"view":{"stroke":"black","strokeWidth":1},"data":{"name":"grey"},
 "layer":[
  {"transform":[{"filter":"datum.k == 'base'"}],"mark":{"type":"rect","fill":"#c0c0c0","stroke":"black","strokeWidth":0.6,"clip":true},
   "encoding":{"x":{"field":"a","type":"quantitative","scale":{"domain":[761.15,968.85],"nice":false,"zero":false},"axis":null},"x2":{"field":"b"},
    "y":{"datum":0,"type":"quantitative","scale":{"domain":[0,1],"nice":false,"zero":false},"axis":null},"y2":{"datum":0.5625}}},
  {"transform":[{"filter":"datum.k == 'g'"}],"mark":{"type":"rect","fill":"#808080","stroke":"black","strokeWidth":0.8,"cornerRadiusTopLeft":3,"cornerRadiusTopRight":3,"clip":true},
   "encoding":{"x":{"field":"a","type":"quantitative"},"x2":{"field":"b"},"y":{"datum":0,"type":"quantitative"},"y2":{"datum":0.74}}},
  {"data":{"name":"greyT"},"mark":{"type":"rule","stroke":"black","strokeWidth":1},
   "encoding":{"x":{"field":"d","type":"quantitative"},"y":{"datum":0,"type":"quantitative"},"y2":{"datum":0.74}}}
 ]},
{"width":1132,"height":47,"view":{"stroke":"black","strokeWidth":1},"data":{"name":"blue"},
 "layer":[
  {"transform":[{"filter":"datum.k == 'base'"}],"mark":{"type":"rect","fill":"#c5dcf6","stroke":"#333","strokeWidth":0.5,"clip":true},
   "encoding":{"x":{"field":"a","type":"quantitative","scale":{"domain":[761.15,968.85],"nice":false,"zero":false},"axis":null},"x2":{"field":"b"},
    "y":{"datum":0,"type":"quantitative","scale":{"domain":[0,1],"nice":false,"zero":false},"axis":null},"y2":{"datum":0.247}}},
  {"transform":[{"filter":"datum.k == 'b'"}],"mark":{"type":"rect","fill":"#1b74da","stroke":"#1a1a3a","strokeWidth":0.8,"cornerRadiusTopLeft":3,"cornerRadiusTopRight":3,"clip":true},
   "encoding":{"x":{"field":"a","type":"quantitative"},"x2":{"field":"b"},"y":{"datum":0,"type":"quantitative"},"y2":{"datum":0.58}}},
  {"transform":[{"filter":"datum.k == 'x'"}],"mark":{"type":"rect","fill":"#c07474","stroke":"#333","strokeWidth":0.8,"cornerRadiusTopLeft":3,"cornerRadiusTopRight":3,"clip":true},
   "encoding":{"x":{"field":"a","type":"quantitative"},"x2":{"field":"b"},"y":{"datum":0,"type":"quantitative"},"y2":{"datum":0.723}}}
 ]},
{"width":1132,"height":28.4,"view":{"fill":"white","stroke":"black","strokeWidth":1},"data":{"values":[{}]},"mark":{"type":"point","opacity":0},"encoding":{}},
{"width":1132,"height":40.6,"view":{"stroke":"black","strokeWidth":1},
 "layer":[
  {"data":{"name":"vgrid"},"mark":{"type":"rule","stroke":"#444","strokeWidth":1.3},
   "encoding":{"x":{"field":"g","type":"quantitative","scale":{"domain":[761.15,968.85],"nice":false,"zero":false},"axis":null}}},
  {"data":{"name":"histU"},"mark":{"type":"rect","fill":"#f4928c","stroke":"#333","strokeWidth":0.8,"clip":true},
   "encoding":{"x":{"field":"a","type":"quantitative"},"x2":{"field":"b"},"y":{"field":"v","type":"quantitative","scale":{"domain":[0,10],"nice":false,"zero":false},"axis":null},"y2":{"datum":0}}}
 ]},
{"width":1132,"height":41,"view":{"stroke":"black","strokeWidth":1},
 "layer":[
  {"data":{"name":"vgrid"},"mark":{"type":"rule","stroke":"#444","strokeWidth":1.3},
   "encoding":{"x":{"field":"g","type":"quantitative","scale":{"domain":[761.15,968.85],"nice":false,"zero":false},"axis":null}}},
  {"data":{"name":"histL"},"mark":{"type":"rect","fill":"#7b9dc7","stroke":"#222","strokeWidth":0.8,"clip":true},
   "encoding":{"x":{"field":"a","type":"quantitative"},"x2":{"field":"b"},"y":{"field":"v","type":"quantitative","scale":{"domain":[0,10],"nice":false,"zero":false},"axis":null},"y2":{"datum":0}}}
 ]},
{"width":1132,"height":40,"view":{"stroke":"black","strokeWidth":1},"data":{"name":"dots"},
 "layer":[
  {"transform":[{"filter":"datum.k == 'blue'"}],"mark":{"type":"rect","fill":"#2f2ff2","clip":true},
   "encoding":{"x":{"field":"a","type":"quantitative","scale":{"domain":[761.15,968.85],"nice":false,"zero":false},"axis":null},"x2":{"field":"b"},
    "y":{"datum":0,"type":"quantitative","scale":{"domain":[0,1],"nice":false,"zero":false},"axis":null},"y2":{"datum":1}}},
  {"transform":[{"filter":"datum.k == 'dark'"}],"mark":{"type":"rect","fill":"#10108a","opacity":0.2,"clip":true},
   "encoding":{"x":{"field":"a","type":"quantitative"},"x2":{"field":"b"},"y":{"datum":0,"type":"quantitative"},"y2":{"datum":1}}},
  {"transform":[{"filter":"datum.k == 'red'"}],"mark":{"type":"rect","fill":"#ff1a1a","opacity":0.7,"clip":true},
   "encoding":{"x":{"field":"a","type":"quantitative"},"x2":{"field":"b"},"y":{"datum":0,"type":"quantitative"},"y2":{"datum":1}}},
  {"data":{"name":"dotlines"},"transform":[{"filter":"datum.k == 'blue'"}],"mark":{"type":"rule","stroke":"#2020ff","strokeWidth":1,"strokeDash":[2,1]},
   "encoding":{"x":{"field":"d","type":"quantitative"}}},
  {"data":{"name":"dotlines"},"transform":[{"filter":"datum.k == 'green'"}],"mark":{"type":"rule","stroke":"#8eea6a","strokeWidth":1,"strokeDash":[2,2]},
   "encoding":{"x":{"field":"d","type":"quantitative"}}}
 ]},
{"width":1132,"height":41,"view":{"fill":"#f9c9c3","stroke":"black","strokeWidth":1},"data":{"name":"salmon"},
 "layer":[
  {"transform":[{"filter":"datum.k == 'green'"}],"mark":{"type":"rect","fill":"#48b97b"},
   "encoding":{"x":{"field":"a","type":"quantitative","scale":{"domain":[761.15,968.85],"nice":false,"zero":false},
     "axis":{"values":[770,780,790,800,810,820,830,840,850,860,870,880,890,900,910,920,930,940,950,960],"format":".1f","labelAngle":270,"labelAlign":"right","labelBaseline":"middle","ticks":false,"tickSize":0,"domain":false,"grid":false,"labelPadding":9,"labelFontSize":9,"labelFont":"Liberation Sans","labelColor":"#222","title":null,"labelOverlap":false}},
    "x2":{"field":"b"},
    "y":{"datum":0,"type":"quantitative","scale":{"domain":[0,1],"nice":false,"zero":false},"axis":null},"y2":{"datum":1}}},
  {"transform":[{"filter":"datum.k == 'orange'"}],"mark":{"type":"rect","fill":"#f2a158"},
   "encoding":{"x":{"field":"a","type":"quantitative"},"x2":{"field":"b"},"y":{"datum":0,"type":"quantitative"},"y2":{"datum":1}}}
 ]}
]
}
